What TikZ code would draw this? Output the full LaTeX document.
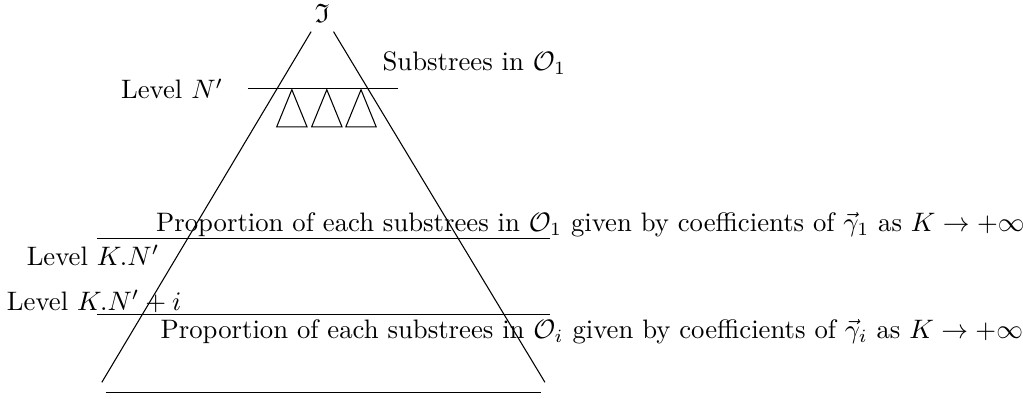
\documentclass[tikz,border=0pt]{standalone}
\usepackage{amssymb}
\usetikzlibrary{positioning}

\begin{document}
\begin{tikzpicture}[
  leg/.style={draw=black, line width=0.4pt},
  lvl/.style={draw=black, line width=0.4pt},
  subtree/.style={draw=black, line width=0.4pt},
  tag/.style={inner sep=3.33pt}
]
  \useasboundingbox (0,0) rectangle (13.46,-5.24);

  % ── Arbre ──────────────────────────────────────────────
  \node (root) at (4.24,-0.17) {$\mathfrak{I}$};
  \coordinate (footL) at (1.34,-5.03);
  \coordinate (footR) at (7.17,-5.03);
  \draw[leg] (root) -- (footL);
  \draw[leg] (root) -- (footR);

  \coordinate (bottomL) at (1.39,-5.16);
  \coordinate (bottomR) at (7.12,-5.16);
  \draw[lvl] (bottomL) -- (bottomR);

  % ── Niveau N' et sous-arbres ───────────────────────────
  \coordinate (lvlA) at (3.26,-1.17);
  \coordinate (lvlB) at (5.24,-1.17);
  \draw[lvl] (lvlA) -- (lvlB);
  \node[tag, left=2.0mm of lvlA] (lvlNlab) {Level $N'$};
  \node[tag, anchor=base west] (subslab) at (4.91,-0.93) {Substrees in $\mathcal{O}_1$};

  \foreach \X in {3.84, 4.30, 4.75} {
    \draw[subtree] (\X,-1.18) -- (\X-0.20,-1.67) -- (\X+0.20,-1.67) -- cycle;
  }

  % ── Niveaux K.N' et K.N'+i ─────────────────────────────
  \coordinate (lvlKA) at (1.28,-3.14);
  \coordinate (lvlKB) at (7.24,-3.14);
  \draw[lvl] (lvlKA) -- (lvlKB);
  \coordinate (lvlIA) at (1.28,-4.14);
  \coordinate (lvlIB) at (7.24,-4.14);
  \draw[lvl] (lvlIA) -- (lvlIB);

  \node[tag, anchor=base east] (lvlKlab) at (2.22,-3.49) {Level $K.N'$};
  \node[tag, anchor=base east] (lvlIlab) at (2.51,-4.08) {Level $K.N'+i$};

  \node[tag, anchor=base west] (prop1) at (1.93,-3.05)
    {Proportion of each substrees in $\mathcal{O}_1$ given by coefficients of $\vec{\gamma}_1$ as $K\to+\infty$};
  \node[tag, anchor=base west] (propi) at (1.99,-4.45)
    {Proportion of each substrees in $\mathcal{O}_i$ given by coefficients of $\vec{\gamma}_i$ as $K\to+\infty$};

\end{tikzpicture}
\end{document}
